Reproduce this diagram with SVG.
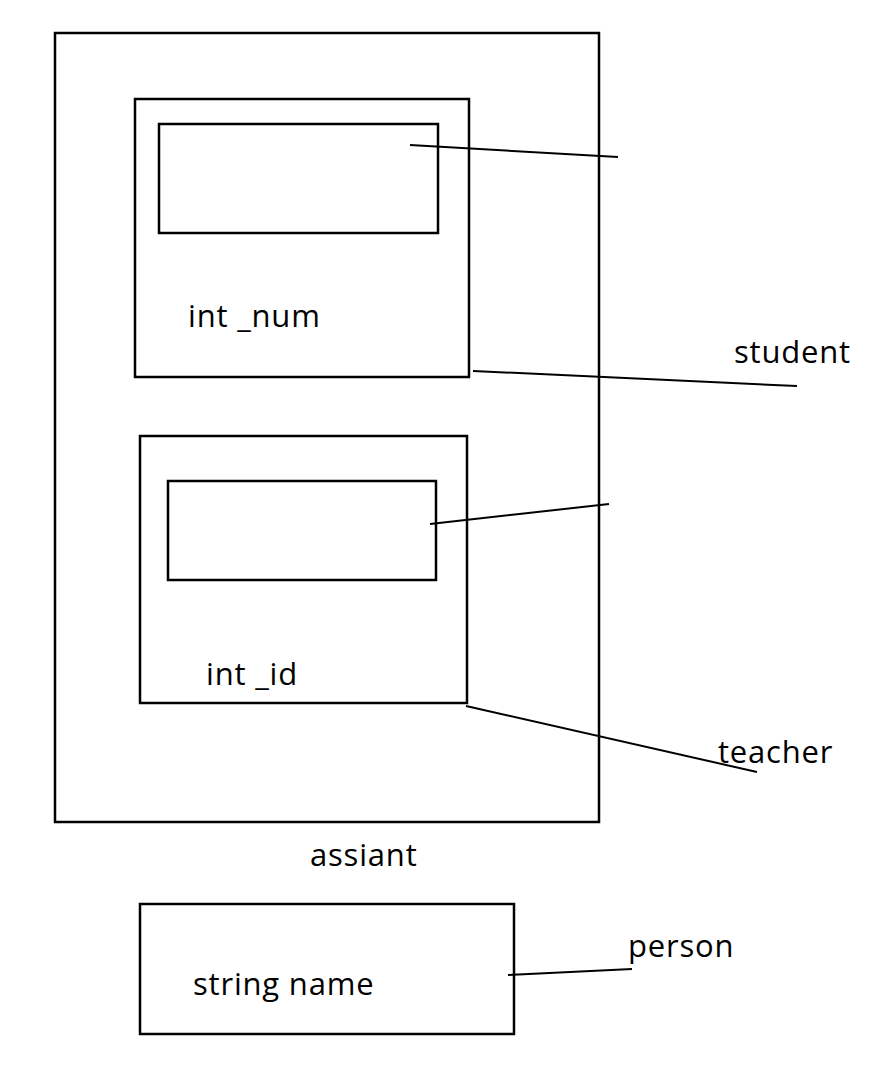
<svg xmlns="http://www.w3.org/2000/svg" width="869" height="1068" viewBox="0 0 869 1068">
<style>
rect{fill:none;stroke:#000;stroke-width:2.5}
line{stroke:#000;stroke-width:2}
text{font-family:"Open Sans","Noto Sans",sans-serif;font-size:31px;letter-spacing:0.8px;fill:#000}
</style>
<rect x="0" y="0" width="869" height="1068" style="fill:#fff;stroke:none"/>
<g id="assiant"><rect x="55" y="33" width="544" height="789"/><text x="310" y="866">assiant</text></g>
<g id="student"><rect x="135" y="99" width="334" height="278"/><rect x="159" y="124" width="279" height="109"/><text x="188" y="327">int _num</text><text x="734" y="363">student</text></g>
<g id="teacher"><rect x="140" y="436" width="327" height="267"/><rect x="168" y="481" width="268" height="99"/><text x="206" y="685">int _id</text><text x="718" y="763">teacher</text></g>
<g id="person"><rect x="140" y="904" width="374" height="130"/><text x="193" y="995">string name</text><text x="628" y="957">person</text></g>
<g id="connectors">
<line x1="410" y1="145" x2="618" y2="157"/>
<line x1="473" y1="371" x2="797" y2="386"/>
<line x1="430" y1="524" x2="609" y2="504"/>
<line x1="466" y1="706" x2="757" y2="772"/>
<line x1="508" y1="975" x2="632" y2="969"/>
</g>
</svg>
